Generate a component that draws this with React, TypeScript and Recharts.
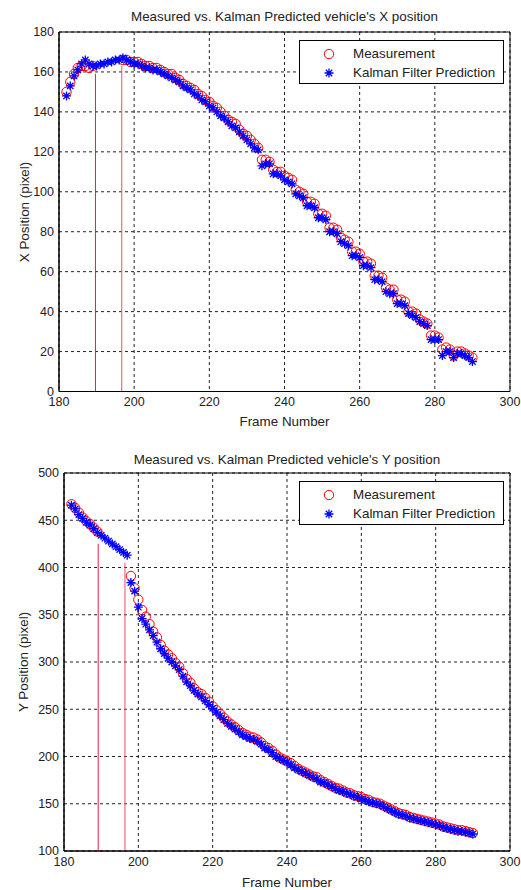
import {
  ScatterChart,
  Scatter,
  XAxis,
  YAxis,
  CartesianGrid,
  ReferenceLine,
  ReferenceArea,
} from "recharts";

const FONT = '"Liberation Sans", Arial, sans-serif';
const TEXT = "#222";
const LABEL_SIZE = 13.4;

// frame numbers 182..290
const frames = [
  182, 183, 184, 185, 186, 187, 188, 189,
  190, 191, 192, 193, 194, 195, 196, 197, 198, 199,
  200, 201, 202, 203, 204, 205, 206, 207, 208, 209,
  210, 211, 212, 213, 214, 215, 216, 217, 218, 219,
  220, 221, 222, 223, 224, 225, 226, 227, 228, 229,
  230, 231, 232, 233, 234, 235, 236, 237, 238, 239,
  240, 241, 242, 243, 244, 245, 246, 247, 248, 249,
  250, 251, 252, 253, 254, 255, 256, 257, 258, 259,
  260, 261, 262, 263, 264, 265, 266, 267, 268, 269,
  270, 271, 272, 273, 274, 275, 276, 277, 278, 279,
  280, 281, 282, 283, 284, 285, 286, 287, 288, 289,
  290,
];

// X position: measured (null = vehicle occluded) and Kalman prediction
const xMeasured = [
  150, 155, 159, 162, 163, 163, 162, 163,
  null, null, null, null, null, null, null, 166, 166, 165,
  165, 165, 164, 163, 163, 162, 162, 161, 160, 159,
  159, 157, 156, 154, 153, 152, 151, 149, 148, 146,
  145, 143, 142, 140, 138, 136, 135, 134, 131, 129,
  128, 126, 124, 122, 116, 116, 115, 111, 110, 110,
  108, 107, 106, 101, 100, 99, 95, 95, 94, 89,
  89, 88, 82, 82, 81, 77, 76, 75, 70, 70,
  69, 65, 65, 64, 58, 58, 57, 52, 51, 51,
  46, 46, 45, 40, 40, 39, 36, 35, 34, 28,
  28, 27, 21, 22, 21, 18, 20, 20, 19, 18,
  17,
];
const xPredicted = [
  148, 153, 158, 161, 164, 166, 164, 163,
  163, 164, 164, 165, 165, 166, 166, 167, 166, 165,
  164, 164, 163, 162, 162, 161, 161, 160, 159, 158,
  157, 156, 155, 153, 152, 151, 149, 148, 146, 145,
  143, 142, 140, 138, 137, 135, 133, 132, 130, 128,
  126, 124, 122, 121, 113, 114, 114, 109, 109, 108,
  106, 105, 104, 99, 98, 97, 93, 93, 92, 87,
  87, 86, 80, 80, 79, 75, 74, 73, 68, 68,
  67, 63, 63, 62, 56, 56, 55, 50, 49, 49,
  44, 44, 43, 39, 38, 37, 35, 34, 33, 26,
  26, 26, 18, 20, 20, 17, 19, 19, 18, 17,
  15,
];

// Y position
const yMeasured = [
  467, 463, 458, 453, 449, 446, 442, 438,
  null, null, null, null, null, null, null, null, 391, 378,
  366, 355, 348, 340, 332, 326, 318, 312, 308, 304,
  299, 295, 288, 282, 278, 272, 268, 266, 262, 258,
  253, 249, 245, 241, 237, 234, 231, 228, 225, 223,
  221, 220, 218, 215, 211, 209, 206, 202, 199, 197,
  195, 193, 190, 187, 185, 183, 181, 179, 178, 175,
  173, 171, 169, 167, 166, 164, 162, 161, 159, 158,
  157, 155, 154, 152, 151, 150, 148, 146, 144, 142,
  140, 139, 138, 136, 135, 134, 133, 132, 131, 130,
  129, 128, 126, 125, 124, 123, 122, 122, 121, 120,
  119,
];
const yPredicted = [
  466, 462, 456, 452, 448, 445, 441, 437,
  434, 431, 428, 425, 422, 419, 416, 413, 384, 375,
  358, 346, 340, 334, 328, 321, 314, 309, 304, 300,
  296, 292, 285, 279, 275, 270, 266, 263, 259, 255,
  251, 247, 243, 239, 235, 232, 229, 226, 223, 221,
  219, 218, 216, 213, 209, 207, 204, 200, 198, 196,
  194, 191, 188, 186, 184, 182, 180, 178, 176, 173,
  172, 170, 168, 166, 164, 163, 161, 160, 158, 157,
  155, 154, 152, 151, 150, 149, 147, 145, 143, 141,
  139, 138, 137, 135, 134, 133, 132, 131, 130, 129,
  128, 127, 125, 124, 123, 122, 121, 121, 120, 119,
  118,
];

const frameTicks = [180, 200, 220, 240, 260, 280, 300];
const xPosTicks = [0, 20, 40, 60, 80, 100, 120, 140, 160, 180];
const yPosTicks = [100, 150, 200, 250, 300, 350, 400, 450, 500];

// occlusion markers: [frame, top value]
const xOcclusion = [
  [189.7, 159],
  [196.7, 163],
];
const yOcclusion = [
  [189.2, 425],
  [196.4, 405],
];

type Pt = { frame: number; value: number };

function toPoints(vals: (number | null)[]): Pt[] {
  const out: Pt[] = [];
  frames.forEach((f, i) => {
    const v = vals[i];
    if (v !== null && v !== undefined) out.push({ frame: f, value: v });
  });
  return out;
}

function CircleMark(p: any) {
  if (p.cx == null || p.cy == null) return <g />;
  return (
    <circle cx={p.cx} cy={p.cy} r={4.7} fill="none" stroke="#ff0000" strokeWidth={1} />
  );
}

function StarMark(p: any) {
  if (p.cx == null || p.cy == null) return <g />;
  const { cx, cy } = p;
  const r = 4.5;
  const d = 3.2;
  return (
    <path
      d={`M${cx - r},${cy}H${cx + r}M${cx},${cy - r}V${cy + r}M${cx - d},${cy - d}L${cx + d},${cy + d}M${cx - d},${cy + d}L${cx + d},${cy - d}`}
      stroke="#0000ff"
      strokeWidth={1.3}
      fill="none"
    />
  );
}

function LegendBox({ top }: { top: number }) {
  const row = (y: number, icon: React.ReactNode, label: string) => (
    <div style={{ position: "absolute", left: 0, top: y - 10, height: 20, width: "100%" }}>
      <svg width={20} height={20} style={{ position: "absolute", left: 19, top: 0 }}>
        {icon}
      </svg>
      <span
        style={{
          position: "absolute",
          left: 53,
          top: 2,
          fontSize: LABEL_SIZE,
          lineHeight: "16px",
          color: TEXT,
          whiteSpace: "nowrap",
        }}
      >
        {label}
      </span>
    </div>
  );
  return (
    <div
      style={{
        position: "absolute",
        left: 299,
        top,
        width: 203,
        height: 42,
        border: "1px solid #000",
        background: "#fff",
        fontFamily: FONT,
      }}
    >
      {row(13, <CircleMark cx={10} cy={10} />, "Measurement")}
      {row(32, <StarMark cx={10} cy={10} />, "Kalman Filter Prediction")}
    </div>
  );
}

type PanelProps = {
  top: number;
  title: string;
  yLabel: string;
  measured: (number | null)[];
  predicted: (number | null)[];
  yDomain: [number, number];
  yTicks: number[];
  occlusion: number[][];
  plotLeft: number;
  plotTop: number;
  plotBottom: number;
  titleY: number;
  xLabelY: number;
  yLabelX: number;
  legendTop: number;
};

function Panel(props: PanelProps) {
  const H = 445;
  const plotRight = 510;
  const axisH = 30;
  const top = props.top;
  const plotTop = props.plotTop - top;
  const plotBottom = props.plotBottom - top;
  const centerX = (props.plotLeft + plotRight) / 2;
  const midY = (plotTop + plotBottom) / 2;
  const tickStyle = { fontSize: 12.5, fill: TEXT, fontFamily: FONT };
  const labelStyle: React.CSSProperties = {
    position: "absolute",
    fontFamily: FONT,
    fontSize: LABEL_SIZE,
    color: TEXT,
    whiteSpace: "nowrap",
  };
  return (
    <div style={{ position: "absolute", left: 0, top, width: 521, height: H }}>
      <ScatterChart
        width={521}
        height={H}
        margin={{
          top: plotTop,
          right: 521 - plotRight,
          bottom: H - plotBottom - axisH,
          left: 0,
        }}
      >
        <CartesianGrid stroke="#222" strokeDasharray="3 3" />
        <XAxis
          type="number"
          dataKey="frame"
          domain={[180, 300]}
          ticks={frameTicks}
          height={axisH}
          tickSize={0}
          tickMargin={6}
          tick={tickStyle}
          axisLine={{ stroke: "#000" }}
          allowDataOverflow
        />
        <YAxis
          type="number"
          dataKey="value"
          domain={props.yDomain}
          ticks={props.yTicks}
          width={props.plotLeft}
          tickSize={0}
          tickMargin={5}
          tick={tickStyle}
          axisLine={{ stroke: "#000" }}
          allowDataOverflow
        />
        {props.occlusion.map(([f, v], i) => (
          <ReferenceLine
            key={i}
            segment={[
              { x: f, y: props.yDomain[0] },
              { x: f, y: v },
            ]}
            stroke={i === 0 ? "#e0203c" : "#e8506a"}
            strokeWidth={1}
          />
        ))}
        <Scatter
          data={toPoints(props.measured)}
          shape={CircleMark}
          isAnimationActive={false}
        />
        <Scatter
          data={toPoints(props.predicted)}
          shape={StarMark}
          isAnimationActive={false}
        />
        <ReferenceArea
          x1={180}
          x2={300}
          y1={props.yDomain[0]}
          y2={props.yDomain[1]}
          fill="none"
          stroke="#000"
          strokeWidth={1}
          ifOverflow="visible"
        />
      </ScatterChart>
      <div
        style={{
          ...labelStyle,
          left: centerX,
          top: props.titleY - top,
          transform: "translate(-50%, -50%)",
        }}
      >
        {props.title}
      </div>
      <div
        style={{
          ...labelStyle,
          left: centerX,
          top: props.xLabelY - top,
          transform: "translate(-50%, -50%)",
        }}
      >
        Frame Number
      </div>
      <div
        style={{
          ...labelStyle,
          left: props.yLabelX,
          top: midY,
          transform: "translate(-50%, -50%) rotate(-90deg)",
        }}
      >
        {props.yLabel}
      </div>
      <LegendBox top={props.legendTop - top} />
    </div>
  );
}

export default function App() {
  return (
    <div
      style={{
        position: "absolute",
        left: 0,
        top: 0,
        width: 521,
        height: 890,
        background: "#fff",
        overflow: "hidden",
      }}
    >
      <Panel
        top={0}
        title="Measured vs. Kalman Predicted vehicle's X position"
        yLabel="X Position (pixel)"
        measured={xMeasured}
        predicted={xPredicted}
        yDomain={[0, 180]}
        yTicks={xPosTicks}
        occlusion={xOcclusion}
        plotLeft={59}
        plotTop={32}
        plotBottom={391.5}
        titleY={16}
        xLabelY={421}
        yLabelX={24}
        legendTop={39.5}
      />
      <Panel
        top={445}
        title="Measured vs. Kalman Predicted vehicle's Y position"
        yLabel="Y Position (pixel)"
        measured={yMeasured}
        predicted={yPredicted}
        yDomain={[100, 500]}
        yTicks={yPosTicks}
        occlusion={yOcclusion}
        plotLeft={64}
        plotTop={473}
        plotBottom={851}
        titleY={459}
        xLabelY={882}
        yLabelX={23}
        legendTop={481}
      />
    </div>
  );
}
